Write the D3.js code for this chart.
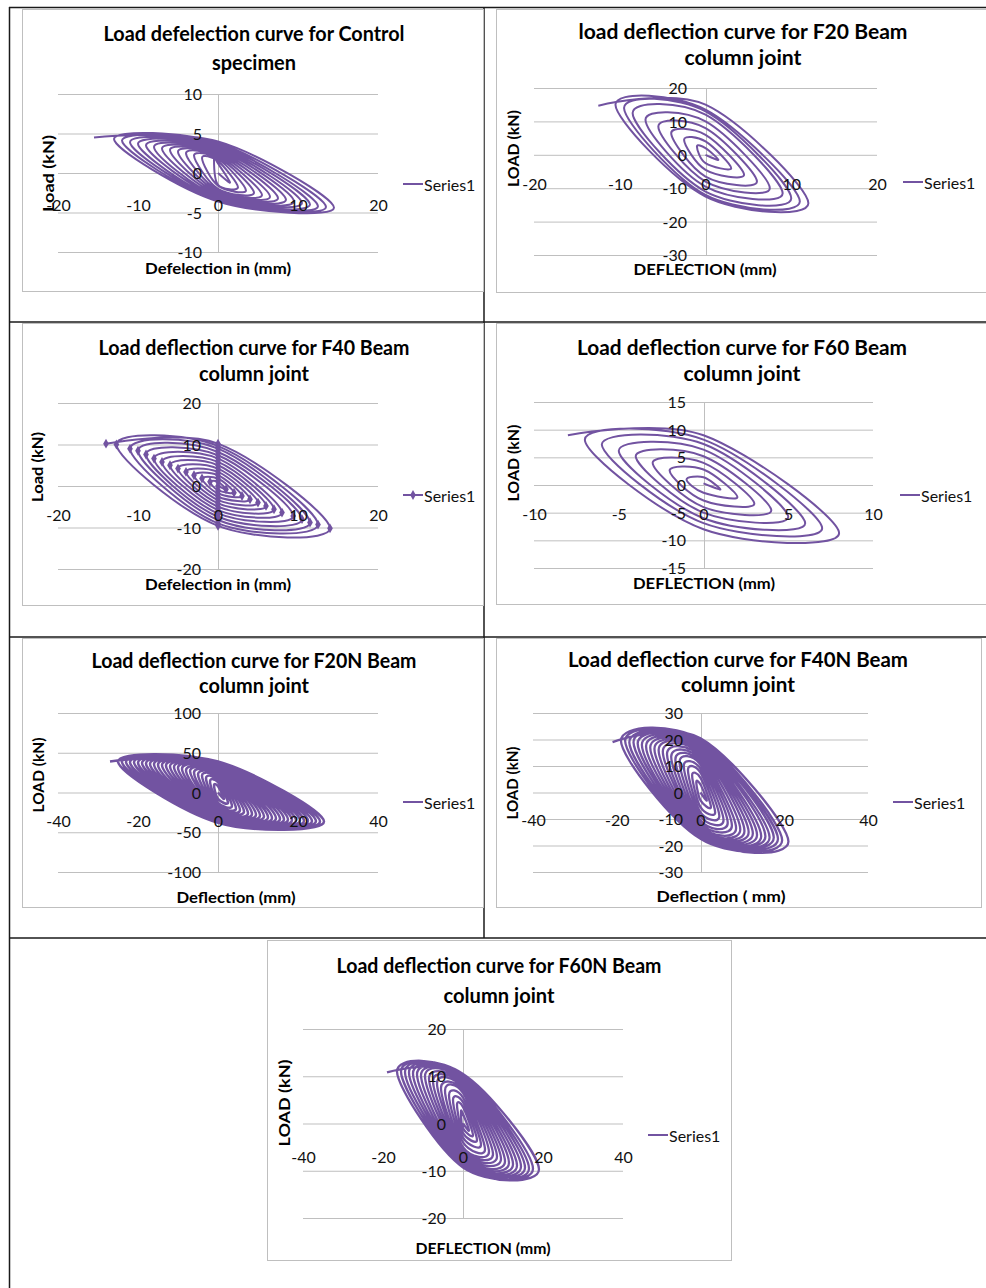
<!DOCTYPE html>
<html><head><meta charset="utf-8">
<script src="https://cdn.jsdelivr.net/npm/d3@7"></script>
<style>body{margin:0;background:#fff}svg{display:block}</style>
</head><body>
<svg id="c" width="986" height="1288"></svg>
<script>
// ---------------- DATA (deflection mm, load kN) ----------------
// Each loop: right peak, upper zero-crossing, left peak, lower zero-crossing
const ctrlDefl = [0,
 1.5,0,-0.5,0, 2.5,0,-2,0, 3.5,0,-3,0, 4.5,0,-4,0, 5.5,0,-5,0, 6.5,0,-6,0, 7.5,0,-7,0,
 8.5,0,-8,0, 9.5,0,-9,0, 10.5,0,-10,0, 11.5,0,-11,0, 12.5,0,-12,0, 13.5,0,-13,0, 14.5,0,-15.5];
const ctrlLoad = [0,
 -1.2,1.2,1.8,-1.5, -1.8,1.5,1.9,-1.6, -2.2,1.8,2.2,-2, -2.5,2,2.5,-2.2, -2.8,2.2,2.7,-2.4,
 -3,2.4,2.9,-2.6, -3.2,2.6,3.1,-2.8, -3.4,2.8,3.3,-3, -3.6,3,3.5,-3.1, -3.8,3.2,3.7,-3.3,
 -4,3.4,3.9,-3.4, -4.2,3.6,4.1,-3.5, -4.3,3.8,4.3,-3.6, -4.4,4.0,4.5];

const f20Defl = [0,
 1.5,0,-1,0, 3,0,-2.5,0, 4.5,0,-4,0, 6,0,-5.5,0, 7.5,0,-7,0, 9,0,-8.5,0, 10,0,-9.5,0,
 11,0,-10.5,0, 12,0,-12.5];
const f20Load = [0,
 -1.5,2,2.5,-2.5, -4,4,4.5,-4.5, -6,6,6.5,-6.5, -8,8,8.5,-8, -10,10,10.5,-9.5,
 -11.5,12,12.5,-11, -13,13,14,-12, -14,13.5,15,-12.5, -14.5,15,14.7];

const f40Defl = [0,
 1,0,-1,0, 2,0,-2,0, 3,0,-3,0, 4,0,-4,0, 5,0,-5,0, 6,0,-6,0, 7,0,-7,0, 8,0,-8,0,
 9.4,0,-9,0, 10.5,0,-10,0, 11.5,0,-11,0, 12.5,0,-12.7,0, 14,0,-14];
const f40Load = [0,
 -0.8,1,1,-1, -1.6,1.8,1.8,-1.8, -2.4,2.6,2.6,-2.6, -3.2,3.4,3.4,-3.4, -4,4.2,4.2,-4.2,
 -4.8,5,5,-5, -5.6,5.8,5.8,-5.8, -6.4,6.6,6.6,-6.6, -7.2,7.4,7.6,-7.4, -8,8.2,8.5,-8.2,
 -8.8,9,9,-9, -9.3,9.6,10,-9.6, -10.2,10.2,10.2];

const f60Defl = [0,
 1,0,-1,0, 2,0,-2,0, 3,0,-3,0, 4,0,-4,0, 5,0,-5,0, 6,0,-6,0, 7,0,-7,0, 8,0,-8];
const f60Load = [0.3,
 -0.8,1.4,1.0,-1.4, -2.2,2.8,2.6,-2.8, -3.4,4.0,4.0,-4.0, -4.6,5.2,5.2,-5.0,
 -5.8,6.4,6.2,-6.0, -6.9,7.4,7.3,-6.9, -7.8,8.2,8.2,-8.0, -8.7,9.0,9.0];

const f20nDefl = [0,
 1.5,0,-1,0, 2.5,0,-2,0, 3.5,0,-3,0, 4.5,0,-4,0, 5.5,0,-5,0, 6.5,0,-6,0, 7.5,0,-7,0,
 8.5,0,-8,0, 9.5,0,-9,0, 10.5,0,-10,0, 11.5,0,-11,0, 12.5,0,-12,0, 13.5,0,-13,0,
 14.5,0,-14,0, 15.5,0,-15,0, 16.5,0,-16,0, 17.5,0,-17,0, 18.5,0,-18,0, 19.5,0,-19,0,
 20.5,0,-20,0, 21.5,0,-21,0, 22.5,0,-22,0, 23.5,0,-23,0, 24.5,0,-24,0, 25.5,0,-25,0,
 26.5,0,-27];
const f20nLoad = [0,
 -8,8,9,-8, -13,13,14,-13, -17,16,18,-16, -20,19,21,-19, -22,21,23,-21, -24,23,25,-23,
 -26,25,27,-24, -27,26,28,-26, -28,28,30,-27, -29,29,31,-28, -30,30,32,-29, -31,31,33,-30,
 -32,32,34,-31, -32.5,33,34.5,-32, -33,34,35,-33, -33.5,35,35.5,-33.5, -34,35.5,36,-34,
 -34.5,36,36.5,-34.5, -35,36.5,37,-35, -35,37,37.5,-35.5, -35.5,37.5,38,-36,
 -35.5,38,38,-36.5, -36,38,38.5,-37, -36,38.5,38.5,-37.5, -36.5,38.5,39,-38,
 -36.5,39,39];

const f40nDefl = [0,
 1.5,0,-1,0, 2.5,0,-2,0, 3.5,0,-3,0, 4.5,0,-4,0, 5.5,0,-5,0, 6.5,0,-6,0, 7.5,0,-7,0,
 8.5,0,-8,0, 9.5,0,-9,0, 10.5,0,-10,0, 11.5,0,-11,0, 12.5,0,-12,0, 13.5,0,-13,0,
 14.5,0,-14,0, 15.5,0,-15,0, 16.5,0,-16,0, 17.5,0,-17,0, 18.5,0,-18,0, 19.5,0,-19,0,
 21,0,-21];
const f40nLoad = [0,
 -3,3,4,-3, -5.5,5.5,6.5,-5.5, -7.5,7.5,8.5,-7.5, -9,9,10,-9, -10.5,10.5,11.5,-10.5,
 -11.5,11.5,12.5,-11.5, -12.5,12.5,13.5,-12.5, -13.5,13.5,14.5,-13.5, -14,14.5,15.5,-14,
 -14.5,15.5,16,-14.5, -15,16,16.5,-15, -15.5,16.5,17,-15.5, -16,17,17.5,-16,
 -16.5,17.5,18,-16.5, -16.5,18,18.5,-16.5, -17,18.5,19,-17, -17,19,19,-17,
 -17.5,19.5,19.5,-17.5, -18,20,19.5,-17.5, -18.5,20.5,19];

const f60nDefl = [0,
 1.5,0,-0.5,0, 2.5,0,-1.5,0, 3.5,0,-2.5,0, 4.5,0,-3.5,0, 5.5,0,-4.5,0, 6.5,0,-5.5,0,
 7.5,0,-6.5,0, 8.5,0,-7.5,0, 9.5,0,-8.5,0, 10.5,0,-9.5,0, 11.5,0,-10.5,0, 12.5,0,-11.5,0,
 13.5,0,-12.5,0, 14.5,0,-13.5,0, 15.5,0,-14.5,0, 16.5,0,-15.5,0, 17.5,0,-16.5,0,
 19,0,-19];
const f60nLoad = [0,
 -1.5,2,2.5,-1, -2.5,3.5,4,-2, -3.5,4.5,5,-3, -4.5,5.5,6,-4, -5.5,6.5,7,-5, -6,7,7.5,-5.5,
 -6.5,7.5,8.5,-6, -7,8,9,-6.5, -7.5,8.5,9.5,-7, -8,9,10,-7.5, -8.3,9.3,10.2,-8,
 -8.6,9.6,10.4,-8.3, -8.9,9.9,10.6,-8.6, -9.1,10.1,10.8,-8.8, -9.3,10.3,10.9,-9,
 -9.5,10.4,11,-9.2, -9.6,10.5,11,-9.3, -9.7,10.5,10.8];

// tick labels
const ticks20 = [-20,-10,0,10,20];
const ticks40 = [-40,-20,0,20,40];
const ticks10 = [-10,-5,0,5,10];
const ctrlYTicks = [-10,-5,0,5,10];
const f20YTicks = [-30,-20,-10,0,10,20];
const f40YTicks = [-20,-10,0,10,20];
const f60YTicks = [-15,-10,-5,0,5,10,15];
const f20nYTicks = [-100,-50,0,50,100];
const f40nYTicks = [-30,-20,-10,0,10,20,30];
const f60nYTicks = [-20,-10,0,10,20];
const seriesName = "Series1";

// ---------------- LAYOUT ----------------
const panels = [
 {defl:ctrlDefl, load:ctrlLoad, box:[22,9,483,291], plot:[58,378,94,252], xDom:[-20,20], yDom:[-10,10],
  xTicks:ticks20, yTicks:ctrlYTicks, xLabY:205, yLabX:202, sw:2,
  title:["Load defelection curve for Control","specimen"], tX:254, tY:[33,62], tW:[301,84],
  xT:"Defelection in (mm)", xTX:218, xTY:267, xTW:146, yT:"Load (kN)", yTX:47, yTY:173.5, yTW:77, leg:[403,184]},
 {defl:f20Defl, load:f20Load, box:[496,9,990,292], plot:[534,877,88,255], xDom:[-20,20], yDom:[-30,20],
  xTicks:ticks20, yTicks:f20YTicks, xLabY:184, yLabX:687, sw:2,
  title:["load deflection curve for F20 Beam","column joint"], tX:743, tY:[31,57], tW:[329,117],
  xT:"DEFLECTION (mm)", xTX:705, xTY:268, xTW:143, yT:"LOAD (kN)", yTX:512, yTY:148.5, yTW:77, leg:[903,182]},
 {defl:f40Defl, load:f40Load, box:[22,323,483,605], plot:[58,378,403,569], xDom:[-20,20], yDom:[-20,20],
  xTicks:ticks20, yTicks:f40YTicks, xLabY:515, yLabX:201, marker:true, sw:2,
  title:["Load deflection curve for F40 Beam","column joint"], tX:254, tY:[347,373], tW:[311,110],
  xT:"Defelection in (mm)", xTX:218, xTY:583, xTW:146, yT:"Load (kN)", yTX:36, yTY:467, yTW:70, leg:[403,495]},
 {defl:f60Defl, load:f60Load, box:[496,323,990,604], plot:[534,873,402,568], xDom:[-10,10], yDom:[-15,15],
  xTicks:ticks10, yTicks:f60YTicks, xLabY:514, yLabX:686, sw:2,
  title:["Load deflection curve for F60 Beam","column joint"], tX:742, tY:[347,373], tW:[330,117],
  xT:"DEFLECTION (mm)", xTX:704, xTY:582, xTW:142, yT:"LOAD (kN)", yTX:512, yTY:463, yTW:77, leg:[900,495]},
 {defl:f20nDefl, load:f20nLoad, box:[22,638,483,907], plot:[58,378,713,872], xDom:[-40,40], yDom:[-100,100],
  xTicks:ticks40, yTicks:f20nYTicks, xLabY:821, yLabX:201, sw:2.5,
  title:["Load deflection curve for F20N Beam","column joint"], tX:254, tY:[660,685], tW:[325,110],
  xT:"Deflection (mm)", xTX:236, xTY:896, xTW:119, yT:"LOAD (kN)", yTX:37, yTY:775, yTW:75, leg:[403,802]},
 {defl:f40nDefl, load:f40nLoad, box:[496,638,981,907], plot:[533,868,713,872], xDom:[-40,40], yDom:[-30,30],
  xTicks:ticks40, yTicks:f40nYTicks, xLabY:820, yLabX:683, sw:2.3,
  title:["Load deflection curve for F40N Beam","column joint"], tX:738, tY:[659,684], tW:[340,114],
  xT:"Deflection ( mm)", xTX:721, xTY:895, xTW:129, yT:"LOAD (kN)", yTX:511, yTY:783, yTW:73, leg:[893,802]},
 {defl:f60nDefl, load:f60nLoad, box:[267,940,731,1260], plot:[303,623,1029,1218], xDom:[-40,40], yDom:[-20,20],
  xTicks:ticks40, yTicks:f60nYTicks, xLabY:1157, yLabX:446, sw:2.3,
  title:["Load deflection curve for F60N Beam","column joint"], tX:499, tY:[965,995], tW:[325,111],
  xT:"DEFLECTION (mm)", xTX:483, xTY:1247, xTW:135, yT:"LOAD (kN)", yTX:283, yTY:1103, yTW:87, leg:[648,1135]}
];

const FONT = "Lato, 'Open Sans', sans-serif";
const LINE = "#7253A1";
const GRID = "#BFBFBF";
const svg = d3.select("#c");
const fmt = d => String(d);

// table borders
const tb = svg.append("g").attr("stroke","#1a1a1a").attr("stroke-width",1.5);
[[9.5,7,9.5,1288],[9,7.5,986,7.5],[9,322,986,322],[9,637,986,637],[9,938,986,938],[484,7,484,938]]
 .forEach(s=>tb.append("line").attr("x1",s[0]).attr("y1",s[1]).attr("x2",s[2]).attr("y2",s[3]));

panels.forEach(p=>{
  const g = svg.append("g");
  g.append("rect").attr("x",p.box[0]+0.5).attr("y",p.box[1]+0.5)
    .attr("width",p.box[2]-p.box[0]).attr("height",p.box[3]-p.box[1])
    .attr("fill","#fff").attr("stroke",GRID).attr("stroke-width",1);
  const x = d3.scaleLinear().domain(p.xDom).range([p.plot[0],p.plot[1]]);
  const y = d3.scaleLinear().domain(p.yDom).range([p.plot[3],p.plot[2]]);

  // gridlines
  const gg = g.append("g").attr("transform",`translate(${p.plot[0]},0)`)
    .call(d3.axisLeft(y).tickValues(p.yTicks).tickSize(-(p.plot[1]-p.plot[0])).tickFormat(""));
  gg.select(".domain").remove();
  gg.selectAll("line").attr("stroke",GRID).attr("stroke-width",1);
  // vertical axis line
  g.append("line").attr("x1",Math.round(x(0))+0.5).attr("x2",Math.round(x(0))+0.5)
    .attr("y1",y(p.yDom[1])).attr("y2",y(p.yDom[0])).attr("stroke",GRID).attr("stroke-width",1);

  // series
  const pts = p.defl.map((d,i)=>[d,p.load[i]]);
  const line = d3.line().x(d=>x(d[0])).y(d=>y(d[1])).curve(d3.curveCardinal.tension(0));
  g.append("path").attr("d",line(pts)).attr("fill","none").attr("stroke",LINE)
    .attr("stroke-width",p.sw).attr("stroke-linejoin","round");
  if(p.marker){
    g.selectAll(".mk").data(pts).join("path").attr("class","mk")
      .attr("transform",d=>`translate(${x(d[0])},${y(d[1])})`)
      .attr("d",d3.symbol(d3.symbolDiamond).size(28)).attr("fill",LINE);
  }

  // tick labels via axes
  const ax = g.append("g").attr("transform",`translate(0,${p.xLabY})`)
    .call(d3.axisBottom(x).tickValues(p.xTicks).tickFormat(fmt).tickSize(0).tickPadding(0));
  ax.select(".domain").remove();
  ax.selectAll("text").attr("dy","0.35em").attr("y",0);
  const ay = g.append("g").attr("transform",`translate(${p.yLabX},0)`)
    .call(d3.axisLeft(y).tickValues(p.yTicks).tickFormat(fmt).tickSize(0).tickPadding(0));
  ay.select(".domain").remove();
  ay.selectAll("text").attr("dy","0.35em");
  g.selectAll(".tick text").attr("font-family",FONT).attr("font-size",16).attr("fill","#111");

  // titles
  p.title.forEach((t,i)=>{
    g.append("text").attr("x",p.tX).attr("y",p.tY[i]).attr("text-anchor","middle")
      .attr("dominant-baseline","central").attr("font-family",FONT).attr("font-weight",700)
      .attr("font-size",20).attr("fill","#000").attr("textLength",p.tW[i])
      .attr("lengthAdjust","spacingAndGlyphs").text(t);
  });
  g.append("text").attr("x",p.xTX).attr("y",p.xTY).attr("text-anchor","middle")
    .attr("dominant-baseline","central").attr("font-family",FONT).attr("font-weight",700)
    .attr("font-size",16).attr("fill","#000").attr("textLength",p.xTW)
    .attr("lengthAdjust","spacingAndGlyphs").text(p.xT);
  g.append("text").attr("transform",`translate(${p.yTX},${p.yTY}) rotate(-90)`)
    .attr("text-anchor","middle").attr("dominant-baseline","central")
    .attr("font-family",FONT).attr("font-weight",700).attr("font-size",16).attr("fill","#000")
    .attr("textLength",p.yTW).attr("lengthAdjust","spacingAndGlyphs").text(p.yT);

  // legend
  const lg = g.append("g").attr("transform",`translate(${p.leg[0]},${p.leg[1]})`);
  lg.append("line").attr("x1",0).attr("x2",20).attr("y1",0).attr("y2",0)
    .attr("stroke",LINE).attr("stroke-width",2);
  if(p.marker) lg.append("path").attr("transform","translate(10,0)")
    .attr("d",d3.symbol(d3.symbolDiamond).size(28)).attr("fill",LINE);
  lg.append("text").attr("x",21).attr("y",0).attr("dominant-baseline","central")
    .attr("font-family",FONT).attr("font-size",16).attr("fill","#111").text(seriesName);
});
</script>
</body></html>
